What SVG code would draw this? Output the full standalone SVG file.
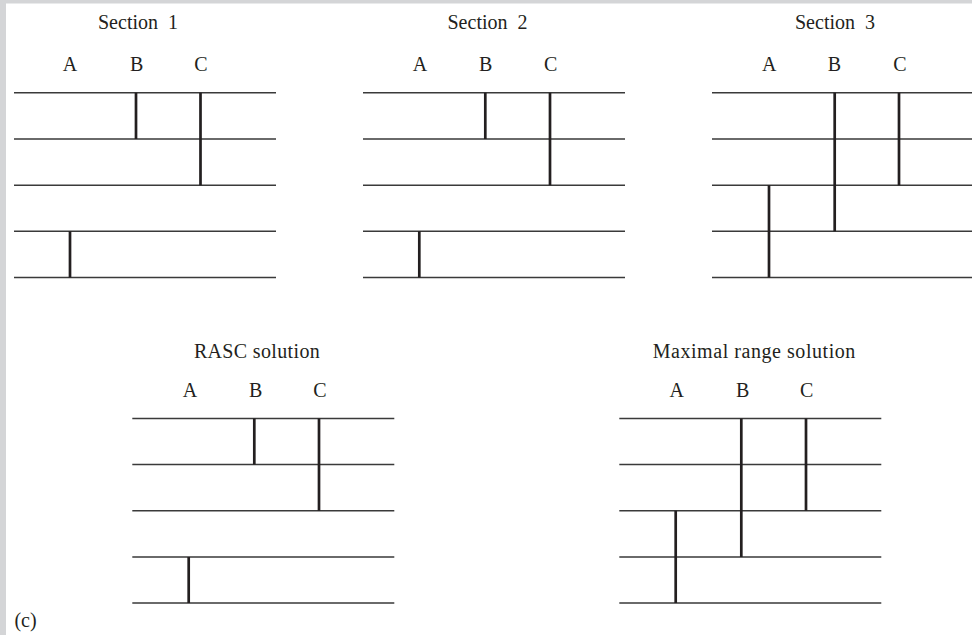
<svg xmlns="http://www.w3.org/2000/svg" width="972" height="635" viewBox="0 0 972 635">
<style>
text{font-family:"Liberation Serif","Times New Roman",serif;font-size:20px;fill:#231f20;text-anchor:middle}
.h{stroke:#3a3a3a;stroke-width:1.5;fill:none}
.v{stroke:#231f20;stroke-width:2.7;fill:none}
</style>
<rect x="0" y="0" width="972" height="635" fill="#ffffff"/>
<rect x="0" y="0" width="6" height="635" fill="#d4d5d7"/>
<rect x="0" y="0" width="972" height="3.5" fill="#d4d5d7"/>
<defs>
<g id="rows">
<path class="h" d="M14 92.8H276M14 139H276M14 185.2H276M14 231.3H276M14 277.5H276"/>
</g>
</defs>
<g id="section1">
<text x="138" y="29" word-spacing="5">Section 1</text>
<text x="70" y="71">A</text><text x="136.7" y="71">B</text><text x="201" y="71">C</text>
<use href="#rows"/>
<path class="v" d="M136 92.8V139M200.5 92.8V185.2M70 231.3V277.5"/>
</g>
<g id="section2">
<text x="487.5" y="29" word-spacing="5">Section 2</text>
<text x="420" y="71">A</text><text x="485.7" y="71">B</text><text x="550.7" y="71">C</text>
<use href="#rows" transform="translate(349,0)"/>
<path class="v" d="M485.3 92.8V139M550 92.8V185.2M419.3 231.3V277.5"/>
</g>
<g id="section3">
<text x="835" y="29" word-spacing="5">Section 3</text>
<text x="769.3" y="71">A</text><text x="834.3" y="71">B</text><text x="900" y="71">C</text>
<use href="#rows" transform="translate(698,0)"/>
<path class="v" d="M834.7 92.8V231.3M899 92.8V185.2M769 185.2V277.5"/>
</g>
<g id="rasc">
<text x="257" y="358" letter-spacing="0.35">RASC solution</text>
<text x="190" y="396.7">A</text><text x="255.7" y="396.7">B</text><text x="320" y="396.7">C</text>
<use href="#rows" transform="translate(118.3,325.6)"/>
<path class="v" d="M254.3 418.4V464.6M319 418.4V510.8M188.7 556.9V603.1"/>
</g>
<g id="maximal">
<text x="754.3" y="358" letter-spacing="0.55">Maximal range solution</text>
<text x="676.7" y="396.7">A</text><text x="742.7" y="396.7">B</text><text x="806.7" y="396.7">C</text>
<use href="#rows" transform="translate(605.3,325.6)"/>
<path class="v" d="M741.3 418.4V556.9M806 418.4V510.8M675.7 510.8V603.1"/>
</g>
<text x="25.5" y="626.5">(c)</text>
</svg>
